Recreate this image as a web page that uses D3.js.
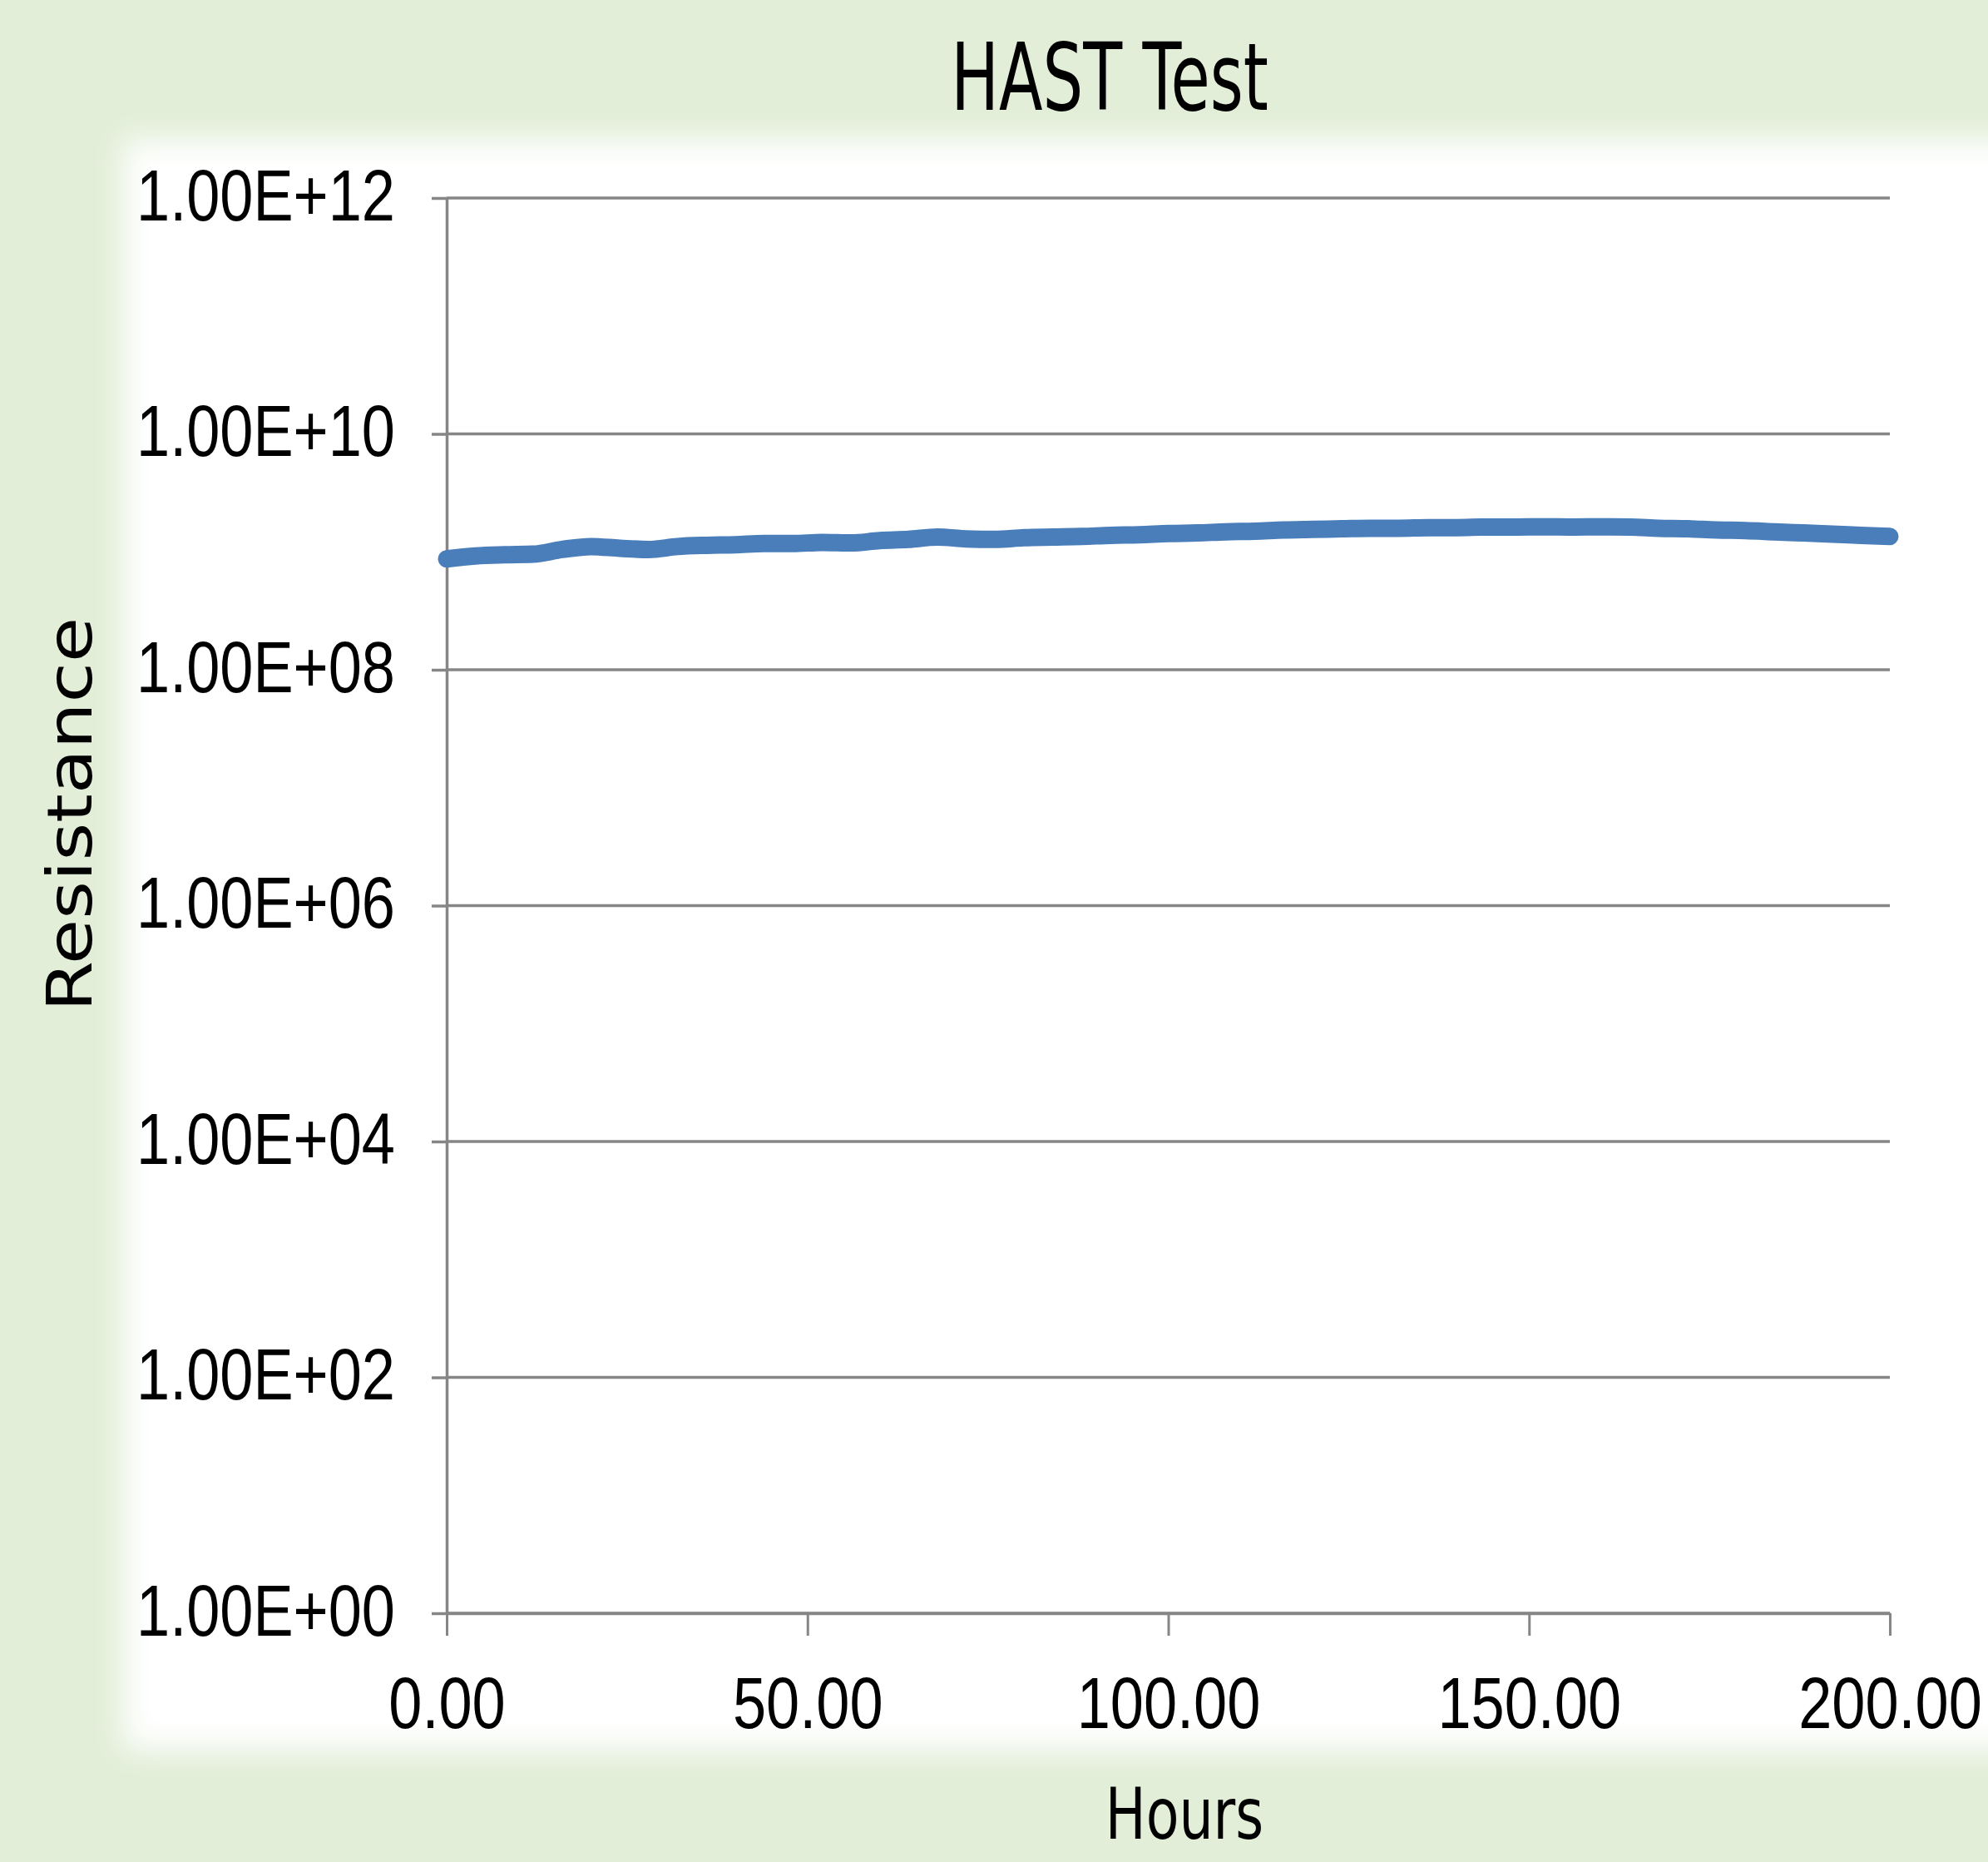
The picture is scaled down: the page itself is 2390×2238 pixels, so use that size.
<!DOCTYPE html>
<html>
<head>
<meta charset="utf-8">
<script src="https://cdn.jsdelivr.net/npm/d3@7"></script>
<style>
  body { margin: 0; background: #e2eed8; }
  svg { display: block; }
</style>
</head>
<body>
<svg id="chart" width="2390" height="2238"></svg>
<script>
// HAST test resistance (every 4 hours)
const hours = [0, 4, 8, 12, 16, 20, 24, 28, 32, 36, 40, 44, 48, 52, 56, 60, 64, 68, 72, 76,
    80, 84, 88, 92, 96, 100, 104, 108, 112, 116, 120, 124, 128, 132, 136, 140, 144, 148, 152, 156,
    160, 164, 168, 172, 176, 180, 184, 188, 192, 196, 200];

const resistance = [8.71e8, 9.23e8, 9.44e8, 9.55e8, 1.047e9, 1.109e9, 1.072e9, 1.047e9, 1.109e9, 1.135e9,
    1.148e9, 1.175e9, 1.175e9, 1.202e9, 1.189e9, 1.245e9, 1.274e9, 1.334e9, 1.288e9, 1.274e9,
    1.318e9, 1.334e9, 1.349e9, 1.380e9, 1.396e9, 1.429e9, 1.445e9, 1.479e9, 1.496e9, 1.531e9,
    1.549e9, 1.567e9, 1.585e9, 1.585e9, 1.603e9, 1.603e9, 1.622e9, 1.622e9, 1.629e9, 1.622e9,
    1.629e9, 1.622e9, 1.585e9, 1.567e9, 1.531e9, 1.514e9, 1.479e9, 1.445e9, 1.413e9, 1.380e9,
    1.349e9];

const xTicks = [0, 50, 100, 150, 200];
const yTicks = [1e0, 1e2, 1e4, 1e6, 1e8, 1e10, 1e12];
const yTickLabels = ['1.00E+00', '1.00E+02', '1.00E+04', '1.00E+06', '1.00E+08', '1.00E+10', '1.00E+12'];

const margin = { left: 537, top: 238, right: 118, bottom: 299 };
const width = 2390 - margin.left - margin.right;
const height = 2238 - margin.top - margin.bottom;

const svg = d3.select('#chart');

// soft white panel behind the plot
const defs = svg.append('defs');
defs.append('filter')
    .attr('id', 'soft')
    .attr('x', '-10%').attr('y', '-10%')
    .attr('width', '120%').attr('height', '120%')
    .append('feGaussianBlur')
    .attr('stdDeviation', 18);

svg.append('rect')
    .attr('x', 148).attr('y', 168)
    .attr('width', 2400).attr('height', 1935)
    .attr('fill', '#ffffff')
    .attr('filter', 'url(#soft)');

const xScale = d3.scaleLinear().domain([0, 200]).range([0, width]);
const yScale = d3.scaleLog().domain([1e0, 1e12]).range([height, 0]);

const g = svg.append('g').attr('transform', `translate(${margin.left},${margin.top})`);

const gridColor = '#868686';
const squeeze = 0.82;

// horizontal gridlines
g.selectAll('line.grid')
    .data(yTicks)
    .enter()
    .append('line')
    .attr('class', 'grid')
    .attr('x1', 0)
    .attr('x2', width)
    .attr('y1', (d) => yScale(d))
    .attr('y2', (d) => yScale(d))
    .attr('stroke', gridColor)
    .attr('stroke-width', 3.5);

// y axis
const yAxis = g.append('g')
    .call(d3.axisLeft(yScale)
        .tickValues(yTicks)
        .tickFormat((d, i) => yTickLabels[i])
        .tickSize(18)
        .tickSizeOuter(0));

yAxis.select('.domain').attr('stroke', gridColor).attr('stroke-width', 3.5);
yAxis.selectAll('.tick line').attr('stroke', gridColor).attr('stroke-width', 3.5);
yAxis.selectAll('.tick text')
    .attr('x', -62 / squeeze)
    .attr('dy', '0.30em')
    .attr('transform', `scale(${squeeze},1)`)
    .attr('fill', '#000')
    .style('font-family', '"Liberation Sans", Arial, sans-serif')
    .style('font-size', '88px');

// x axis
const xAxis = g.append('g')
    .attr('transform', `translate(0,${height})`)
    .call(d3.axisBottom(xScale)
        .tickValues(xTicks)
        .tickFormat(d3.format('.2f'))
        .tickSize(27)
        .tickSizeOuter(0));

xAxis.select('.domain').attr('stroke', gridColor).attr('stroke-width', 3.5);
xAxis.selectAll('.tick line').attr('stroke', gridColor).attr('stroke-width', 3);
xAxis.selectAll('.tick text')
    .attr('y', 138)
    .attr('dy', null)
    .attr('transform', `scale(${squeeze},1)`)
    .attr('fill', '#000')
    .style('font-family', '"Liberation Sans", Arial, sans-serif')
    .style('font-size', '88px');

// data line
const line = d3.line()
    .x((d, i) => xScale(hours[i]))
    .y((d) => yScale(d))
    .curve(d3.curveMonotoneX);

g.append('path')
    .datum(resistance)
    .attr('fill', 'none')
    .attr('stroke', '#4a7ebb')
    .attr('stroke-width', 21)
    .attr('stroke-linecap', 'round')
    .attr('stroke-linejoin', 'round')
    .attr('d', line);

// titles
svg.append('text')
    .attr('transform', 'translate(1334,132) scale(0.68,1)')
    .attr('text-anchor', 'middle')
    .style('font-family', '"DejaVu Sans", Verdana, sans-serif')
    .style('font-size', '113px')
    .text('HAST Test');

svg.append('text')
    .attr('transform', 'translate(110,979) rotate(-90) scale(1,0.84)')
    .attr('text-anchor', 'middle')
    .style('font-family', '"DejaVu Sans", Verdana, sans-serif')
    .style('font-size', '88px')
    .text('Resistance');

svg.append('text')
    .attr('transform', 'translate(1424,2210) scale(0.756,1)')
    .attr('text-anchor', 'middle')
    .style('font-family', '"DejaVu Sans", Verdana, sans-serif')
    .style('font-size', '86px')
    .text('Hours');
</script>
</body>
</html>
